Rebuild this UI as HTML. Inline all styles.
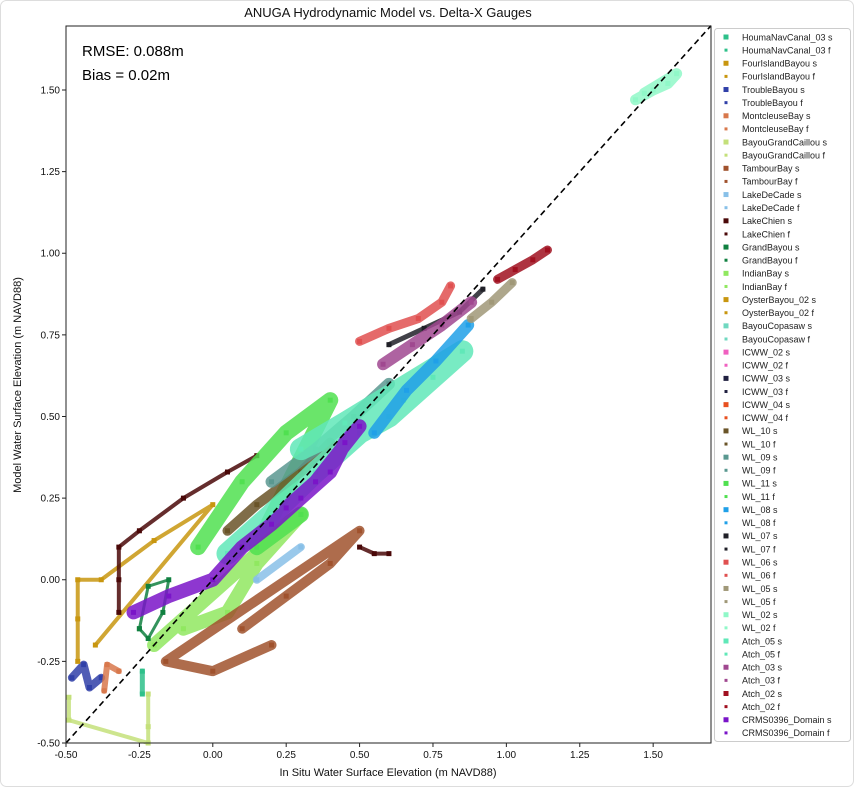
<!DOCTYPE html>
<html><head><meta charset="utf-8"><style>
body{margin:0;background:#fff;font-family:"Liberation Sans","DejaVu Sans",sans-serif}
svg{display:block}
</style></head><body>
<svg id="chart" width="854" height="787" xmlns="http://www.w3.org/2000/svg">
<rect x="0.5" y="0.5" width="853" height="786" rx="6" fill="#fff" stroke="#ddd"/>
<text x="388" y="17" text-anchor="middle" font-size="13" fill="#111">ANUGA Hydrodynamic Model vs. Delta-X Gauges</text>
<g id="marks"></g>
<rect x="66" y="26" width="645" height="717" fill="none" stroke="#222" stroke-width="1"/>
<g id="axes"></g>
<text x="82" y="56" font-size="15" fill="#000">RMSE: 0.088m</text>
<text x="82" y="80" font-size="15" fill="#000">Bias = 0.02m</text>
<text x="388" y="776" text-anchor="middle" font-size="11" fill="#111">In Situ Water Surface Elevation (m NAVD88)</text>
<text x="21" y="385" text-anchor="middle" font-size="11" fill="#111" transform="rotate(-90 21 385)">Model Water Surface Elevation (m NAVD88)</text>
<g id="legend"></g>
</svg>
<script>
const xTicks=[-0.5,-0.25,0,0.25,0.5,0.75,1.0,1.25,1.5];
const yTicks=[-0.5,-0.25,0,0.25,0.5,0.75,1.0,1.25,1.5];
const seriesNames=["HoumaNavCanal_03","FourIslandBayou","TroubleBayou","MontcleuseBay","BayouGrandCaillou","TambourBay","LakeDeCade","LakeChien","GrandBayou","IndianBay","OysterBayou_02","BayouCopasaw","ICWW_02","ICWW_03","ICWW_04","WL_10","WL_09","WL_11","WL_08","WL_07","WL_06","WL_05","WL_02","Atch_05","Atch_03","Atch_02","CRMS0396_Domain"];
const seriesColors=["#2ec08a","#c8960f","#3040a8","#d8784c","#c4e07a","#a0522d","#88c0e8","#4a0808","#108040","#90e860","#c8960f","#70d8c0","#f060c0","#202040","#e85020","#6a5428","#5a9890","#50e050","#20a0e8","#202028","#e05050","#a09878","#90f8c8","#60e8b8","#a04890","#a01020","#7a14c8"];
// representative points of each series cloud [x,y] in data units
const ptsWL02=[[1.44,1.47],[1.5,1.5],[1.55,1.52],[1.58,1.55],[1.47,1.49]];
const ptsAtch05=[[0.05,0.08],[0.2,0.2],[0.35,0.33],[0.5,0.45],[0.6,0.5],[0.75,0.62],[0.85,0.7],[0.45,0.48],[0.3,0.4],[0.65,0.55]];
const ptsCRMS=[[-0.27,-0.1],[-0.15,-0.05],[0,0],[0.1,0.1],[0.2,0.17],[0.3,0.25],[0.4,0.33],[0.45,0.42],[0.5,0.47],[0.35,0.3],[0.25,0.22]];
const ptsAtch02=[[0.97,0.92],[1.03,0.95],[1.09,0.98],[1.14,1.01]];
const ptsWL06=[[0.5,0.73],[0.6,0.77],[0.7,0.8],[0.78,0.85],[0.81,0.9]];
const ptsAtch03=[[0.58,0.66],[0.68,0.72],[0.78,0.78],[0.88,0.85]];
const ptsWL07=[[0.6,0.72],[0.72,0.77],[0.84,0.82],[0.92,0.89]];
const ptsWL05=[[0.88,0.8],[0.95,0.85],[1.02,0.91]];
const ptsWL08=[[0.55,0.45],[0.66,0.58],[0.76,0.67],[0.87,0.78]];
const ptsWL09=[[0.2,0.3],[0.35,0.4],[0.48,0.5],[0.6,0.6]];
const ptsWL10=[[0.05,0.15],[0.15,0.23],[0.3,0.33],[0.4,0.42]];
const ptsWL11=[[-0.05,0.1],[0.1,0.3],[0.25,0.45],[0.4,0.55],[0.15,0.1],[0.3,0.2]];
const ptsIndian=[[-0.1,-0.15],[0.05,-0.1],[0.15,0.05],[0.3,0.2],[-0.2,-0.2]];
const ptsTambour=[[0.1,-0.15],[0.25,-0.05],[0.4,0.05],[0.5,0.15],[-0.16,-0.25],[0.0,-0.28],[0.2,-0.2]];
const ptsLakeChien=[[-0.32,-0.1],[-0.32,0.0],[-0.32,0.1],[-0.25,0.15],[-0.1,0.25],[0.05,0.33],[0.15,0.38]];
const ptsFourIsland=[[-0.46,-0.25],[-0.46,-0.12],[-0.46,0.0],[-0.38,0.0],[-0.2,0.12],[0.0,0.23],[-0.4,-0.2]];
const ptsGrandBayou=[[-0.25,-0.15],[-0.22,-0.02],[-0.15,0.0],[-0.17,-0.1],[-0.22,-0.18],[-0.25,-0.15]];
const ptsTrouble=[[-0.48,-0.3],[-0.44,-0.26],[-0.42,-0.33],[-0.38,-0.3]];
const ptsMontcleuse=[[-0.37,-0.34],[-0.36,-0.26],[-0.32,-0.28]];
const ptsCaillou=[[-0.22,-0.35],[-0.22,-0.45],[-0.22,-0.5],[-0.49,-0.43],[-0.49,-0.36]];
const ptsHouma=[[-0.24,-0.28],[-0.24,-0.35]];
const ptsDeCade=[[0.15,0.0],[0.3,0.1]];
const ptsLakeChien2=[[0.5,0.1],[0.55,0.08],[0.6,0.08]];
const drawOrder=[["BayouGrandCaillou",ptsCaillou],["HoumaNavCanal_03",ptsHouma],["IndianBay",ptsIndian],["TambourBay",ptsTambour],["TroubleBayou",ptsTrouble],["MontcleuseBay",ptsMontcleuse],["FourIslandBayou",ptsFourIsland],["LakeChien",ptsLakeChien],["LakeChien",ptsLakeChien2],["GrandBayou",ptsGrandBayou],["WL_11",ptsWL11],["WL_10",ptsWL10],["WL_09",ptsWL09],["Atch_05",ptsAtch05],["WL_08",ptsWL08],["LakeDeCade",ptsDeCade],["CRMS0396_Domain",ptsCRMS],["WL_06",ptsWL06],["WL_07",ptsWL07],["Atch_03",ptsAtch03],["WL_05",ptsWL05],["Atch_02",ptsAtch02],["WL_02",ptsWL02]];
const bandWidth={"Atch_05":22,"CRMS0396_Domain":14,"WL_11":16,"IndianBay":14,"TambourBay":10,"WL_09":12,"WL_10":10,"WL_08":12,"WL_06":9,"Atch_03":12,"WL_07":5,"WL_05":9,"Atch_02":9,"WL_02":11,"LakeChien":4,"FourIslandBayou":4,"GrandBayou":3,"TroubleBayou":8,"MontcleuseBay":6,"BayouGrandCaillou":4,"HoumaNavCanal_03":5,"LakeDeCade":8};

const X0=-0.5,X1=1.697,Y0=-0.5,Y1=1.696,L=66,R=711,T=26,B=743;
const sx=v=>L+(v-X0)/(X1-X0)*(R-L);
const sy=v=>B-(v-Y0)/(Y1-Y0)*(B-T);
const NS="http://www.w3.org/2000/svg";
const mk=(t,a,p)=>{const e=document.createElementNS(NS,t);for(const k in a)e.setAttribute(k,a[k]);p.appendChild(e);return e;};
const colorOf=n=>seriesColors[seriesNames.indexOf(n)];
const marks=document.getElementById('marks');
drawOrder.forEach(([name,pts])=>{
  const c=colorOf(name);
  const pl=mk('polyline',{points:pts.map(p=>sx(p[0])+','+sy(p[1])).join(' '),fill:'none',stroke:c,'stroke-width':bandWidth[name]||6,'stroke-linejoin':'round','stroke-linecap':'round',opacity:0.85},marks);
  
  
  pts.forEach(p=>{
    const r=mk('rect',{x:sx(p[0])-2.5,y:sy(p[1])-2.5,width:5,height:5,fill:c},marks);
    
    
  });
});
const one=mk('line',{x1:sx(-0.5),y1:sy(-0.5),x2:sx(1.697),y2:sy(1.697),stroke:'#000','stroke-width':1.6,'stroke-dasharray':'6,4'},marks);


const axes=document.getElementById('axes');
xTicks.forEach(v=>{
  const l=mk('line',{x1:sx(v),x2:sx(v),y1:B,y2:B+4,stroke:'#222'},axes);
  
  
  const t=mk('text',{x:sx(v),y:B+15,'text-anchor':'middle','font-size':10,fill:'#111'},axes);
  t.textContent=v.toFixed(2);
  
  
});
yTicks.forEach(v=>{
  const l=mk('line',{x1:L-4,x2:L,y1:sy(v),y2:sy(v),stroke:'#222'},axes);
  
  
  const t=mk('text',{x:L-6,y:sy(v)+3.5,'text-anchor':'end','font-size':10,fill:'#111'},axes);
  t.textContent=v.toFixed(2);
  
  
});
const lg=document.getElementById('legend');
const box=mk('rect',{x:714.5,y:28.5,width:136,height:713,rx:3,fill:'#fff',stroke:'#ccc'},lg);


let i=0;
seriesNames.forEach((n,k)=>{
  ['s','f'].forEach(suf=>{
    const y=37+i*13.13;
    const sz=suf==='s'?5:3;
    const m=mk('rect',{x:726-sz/2,y:y-sz/2,width:sz,height:sz,fill:seriesColors[k]},lg);
    
    
    const t=mk('text',{x:742,y:y+3.3,'font-size':9,fill:'#222'},lg);
    t.textContent=n+' '+suf;
    
    
    i++;
  });
});
</script>
</body></html>
